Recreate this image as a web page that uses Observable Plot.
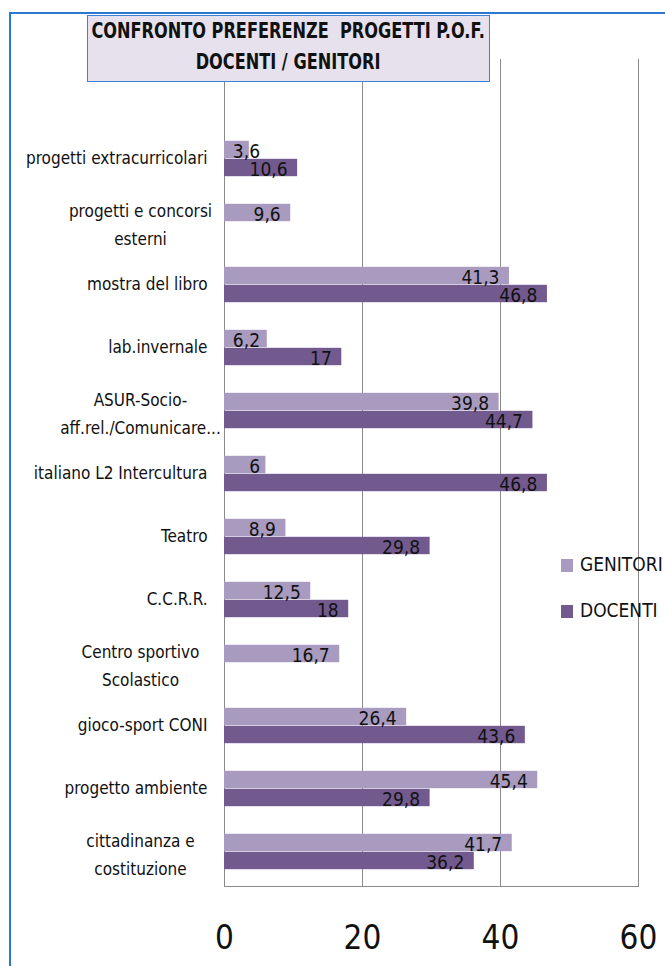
<!DOCTYPE html>
<html><head><meta charset="utf-8">
<script src="https://cdn.jsdelivr.net/npm/d3@7"></script>
<script src="https://cdn.jsdelivr.net/npm/@observablehq/plot@0.6"></script>
<style>
body{margin:0;background:#fff;}
#wrap{position:relative;width:665px;height:966px;overflow:hidden;font-family:"Liberation Sans Narrow","DejaVu Sans Condensed",sans-serif;color:#111;}
#wrap svg{position:absolute;left:0;top:0;}
#border{position:absolute;left:9px;top:12px;width:700px;height:1000px;border-top:2px solid #2a78d2;border-left:2px solid #2a78d2;}
#title{position:absolute;left:87px;top:15px;width:401px;height:65px;background:#e6e1ed;border:1.5px solid #3a7fd8;font-weight:bold;font-size:21px;line-height:31px;color:#111;white-space:nowrap;}
#title div{width:100%;display:flex;justify-content:center;}
#title span{display:inline-block;flex:none;transform:scaleX(0.855);transform-origin:center;}
.leg{position:absolute;left:561px;font-size:19px;white-space:nowrap;}
.leg span{display:inline-block;width:12px;height:13px;vertical-align:middle;margin-right:7px;}
</style>
</head><body>
<div id="wrap"><div id="border"></div></div>
<script>
const categories = [
  "progetti extracurricolari",
  "progetti e concorsi\nesterni",
  "mostra del libro",
  "lab.invernale",
  "ASUR-Socio-\naff.rel./Comunicare...",
  "italiano L2 Intercultura",
  "Teatro",
  "C.C.R.R.",
  "Centro sportivo\nScolastico",
  "gioco-sport CONI",
  "progetto ambiente",
  "cittadinanza e\ncostituzione"
];
const genitori = [3.6, 9.6, 41.3, 6.2, 39.8, 6, 8.9, 12.5, 16.7, 26.4, 45.4, 41.7];
const docenti  = [10.6, null, 46.8, 17, 44.7, 46.8, 29.8, 18, null, 43.6, 29.8, 36.2];
const seriesNames = ["GENITORI", "DOCENTI"];
const seriesColors = ["#a89bbf", "#725a8f"];
const xTicks = [0, 20, 40, 60];
const titleLines = ["CONFRONTO PREFERENZE&nbsp; PROGETTI P.O.F.", "DOCENTI / GENITORI"];

const FONT = '"Liberation Sans Narrow","DejaVu Sans Condensed",sans-serif';
const rowsG = categories.map((c, i) => ({cat: c, value: genitori[i]})).filter(d => d.value != null);
const rowsD = categories.map((c, i) => ({cat: c, value: docenti[i]})).filter(d => d.value != null);
const fmt = v => String(v).replace(".", ",");
const single = categories.filter(c => !c.includes("\n"));
const multi = categories.filter(c => c.includes("\n"));

const chart = Plot.plot({
  width: 665, height: 966,
  marginLeft: 224, marginRight: 27, marginTop: 59, marginBottom: 80,
  x: {domain: [0, 60], label: null},
  y: {domain: categories, range: [123, 886], padding: 0, axis: null},
  style: {fontFamily: FONT, background: "transparent", color: "#111"},
  marks: [
    Plot.gridX(xTicks, {stroke: "#8a8a8a", strokeOpacity: 1, strokeWidth: 1}),
    Plot.frame({anchor: "bottom", stroke: "#8a8a8a"}),
    Plot.barX(rowsG, {x: "value", y: "cat", fill: seriesColors[0], insetTop: 13.8, insetBottom: 31.8}),
    Plot.barX(rowsD, {x: "value", y: "cat", fill: seriesColors[1], insetTop: 31.8, insetBottom: 13.8}),
    Plot.text(rowsG, {x: d => Math.max(d.value, 6.6), y: "cat", text: d => fmt(d.value), textAnchor: "end", dx: -10, dy: -7, fontSize: 19, fill: "#111"}),
    Plot.text(rowsD, {x: d => Math.max(d.value, 6.6), y: "cat", text: d => fmt(d.value), textAnchor: "end", dx: -10, dy: 11, fontSize: 19, fill: "#111"}),
    Plot.text(single, {y: d => d, text: d => d, frameAnchor: "left", textAnchor: "end", dx: -17, fontSize: 17, fill: "#111"}),
    Plot.text(multi, {y: d => d, text: d => d, frameAnchor: "left", textAnchor: "middle", dx: -84, fontSize: 17, lineHeight: 1.65, fill: "#111"}),
    Plot.axisX(xTicks, {tickSize: 0, tickPadding: 39, fontSize: 33, fill: "#111", label: null})
  ]
});
const wrap = document.getElementById("wrap");
wrap.appendChild(chart);
const t = document.createElement("div");
t.id = "title";
t.innerHTML = titleLines.map(l => `<div><span>${l}</span></div>`).join("");
wrap.appendChild(t);
const legTops = [553, 599];
seriesNames.forEach((n, i) => {
  const d = document.createElement("div");
  d.className = "leg";
  d.style.top = legTops[i] + "px";
  d.innerHTML = `<span style="background:${seriesColors[i]}"></span>${n}`;
  wrap.appendChild(d);
});
</script>
</body></html>
